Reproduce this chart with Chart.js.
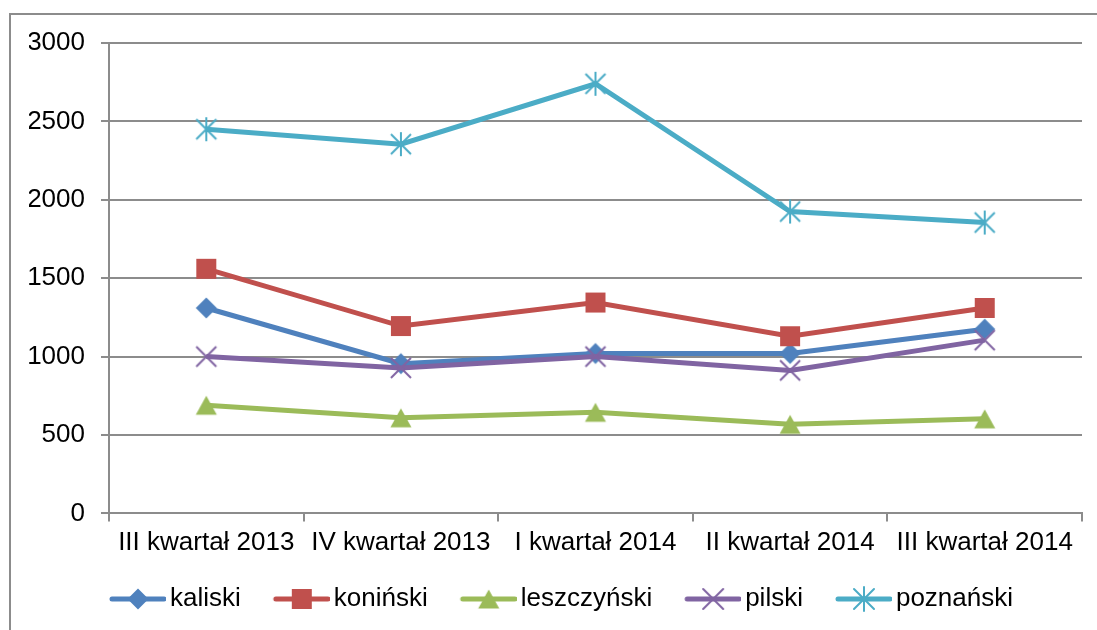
<!DOCTYPE html>
<html>
<head>
<meta charset="utf-8">
<script src="https://cdn.jsdelivr.net/npm/chart.js@4"></script>
<style>
    html, body { margin: 0; padding: 0; background: #fff; overflow: hidden; }
    #wrap { position: relative; width: 1097px; height: 630px; }
    #frame { position: absolute; left: 9px; top: 13px; width: 1200px; height: 700px; border: 2px solid #8c8c8c; pointer-events: none; }
</style>
</head>
<body>
<div id="wrap">
    <canvas id="myChart" width="1097" height="630"></canvas>
    <div id="frame"></div>
</div>
<script>
const categories = ['III kwartał 2013', 'IV kwartał 2013', 'I kwartał 2014', 'II kwartał 2014', 'III kwartał 2014'];
const kaliski = [1310, 955, 1020, 1020, 1175];
const koninski = [1560, 1195, 1345, 1130, 1310];
const leszczynski = [690, 610, 645, 568, 603];
const pilski = [1000, 928, 1000, 912, 1105];
const poznanski = [2450, 2355, 2740, 1925, 1855];
const seriesNames = ['kaliski', 'koniński', 'leszczyński', 'pilski', 'poznański'];
const yTicks = [0, 500, 1000, 1500, 2000, 2500, 3000];

const seriesData = [kaliski, koninski, leszczynski, pilski, poznanski];
const colors = ['#4F81BD', '#C0504D', '#9BBB59', '#8064A2', '#4BACC6'];
const markers = ['diamond', 'square', 'triangle', 'cross', 'star'];
const gridColor = '#8c8c8c';
const fontFamily = '"Liberation Sans", Arial, sans-serif';

// draws one marker centred on (x, y)
function drawMarker(ctx, type, x, y, color) {
    ctx.fillStyle = color;
    ctx.strokeStyle = color;
    ctx.lineWidth = 2;
    ctx.beginPath();
    if (type === 'diamond') {
        ctx.moveTo(x, y - 10.5);
        ctx.lineTo(x + 10.5, y);
        ctx.lineTo(x, y + 10.5);
        ctx.lineTo(x - 10.5, y);
        ctx.closePath();
        ctx.fill();
    } else if (type === 'square') {
        ctx.rect(x - 10, y - 10, 20, 20);
        ctx.fill();
    } else if (type === 'triangle') {
        ctx.moveTo(x, y - 9.5);
        ctx.lineTo(x + 10.5, y + 9.5);
        ctx.lineTo(x - 10.5, y + 9.5);
        ctx.closePath();
        ctx.fill();
    } else if (type === 'cross') {
        ctx.moveTo(x - 10, y - 10);
        ctx.lineTo(x + 10, y + 10);
        ctx.moveTo(x + 10, y - 10);
        ctx.lineTo(x - 10, y + 10);
        ctx.stroke();
    } else if (type === 'star') {
        ctx.moveTo(x - 10, y - 10);
        ctx.lineTo(x + 10, y + 10);
        ctx.moveTo(x + 10, y - 10);
        ctx.lineTo(x - 10, y + 10);
        ctx.moveTo(x, y - 12);
        ctx.lineTo(x, y + 12);
        ctx.stroke();
    }
}

function makePointImage(type, color) {
    const c = document.createElement('canvas');
    c.width = 30;
    c.height = 30;
    drawMarker(c.getContext('2d'), type, 15, 15, color);
    return c;
}

// legend icon: line with marker in the middle
function makeLegendIcon(type, color) {
    const c = document.createElement('canvas');
    c.width = 77;
    c.height = 30;
    const ctx = c.getContext('2d');
    ctx.strokeStyle = color;
    ctx.lineWidth = 5;
    ctx.lineCap = 'round';
    ctx.beginPath();
    ctx.moveTo(23, 15);
    ctx.lineTo(75, 15);
    ctx.stroke();
    drawMarker(ctx, type, 49, 15, color);
    return c;
}

const pointImages = markers.map((m, i) => makePointImage(m, colors[i]));
const legendIcons = markers.map((m, i) => makeLegendIcon(m, colors[i]));

const datasets = seriesNames.map((name, i) => ({
    label: name,
    data: seriesData[i],
    borderColor: colors[i],
    backgroundColor: colors[i],
    borderWidth: 5,
    pointStyle: pointImages[i],
    pointRadius: 10,
    tension: 0,
    fill: false,
    order: 5 - i
}));

const ctx = document.getElementById('myChart').getContext('2d');
const myChart = new Chart(ctx, {
    type: 'line',
    data: {
        labels: categories,
        datasets: datasets
    },
    options: {
        responsive: false,
        animation: false,
        layout: {
            padding: { left: 29, right: 15, top: 43, bottom: 8 }
        },
        plugins: {
            tooltip: { enabled: false },
            legend: {
                position: 'bottom',
                labels: {
                    usePointStyle: true,
                    pointStyleWidth: 59,
                    padding: 21,
                    color: '#000',
                    font: { family: fontFamily, size: 26 },
                    generateLabels: (chart) => chart.data.datasets.map((ds, i) => ({
                        text: ds.label,
                        pointStyle: legendIcons[i],
                        fillStyle: colors[i],
                        strokeStyle: colors[i],
                        lineWidth: 0,
                        hidden: false,
                        datasetIndex: i,
                        fontColor: '#000'
                    }))
                }
            }
        },
        scales: {
            x: {
                offset: true,
                grid: {
                    offset: true,
                    drawOnChartArea: false,
                    drawTicks: true,
                    tickLength: 8,
                    color: gridColor,
                    lineWidth: 2
                },
                border: { color: gridColor, width: 2 },
                ticks: {
                    color: '#000',
                    padding: 1,
                    maxRotation: 0,
                    autoSkip: false,
                    font: { family: fontFamily, size: 26, lineHeight: 1.6 }
                }
            },
            y: {
                min: 0,
                max: 3000,
                afterBuildTicks: (scale) => {
                    scale.ticks = yTicks.map(v => ({ value: v }));
                },
                afterFit: (scale) => {
                    scale.width = 80;
                },
                grid: {
                    color: gridColor,
                    lineWidth: 2,
                    tickLength: 8
                },
                border: { color: gridColor, width: 2 },
                ticks: {
                    color: '#000',
                    padding: 16,
                    font: { family: fontFamily, size: 26 },
                    callback: (value) => String(value)
                }
            }
        }
    }
});
</script>
</body>
</html>
